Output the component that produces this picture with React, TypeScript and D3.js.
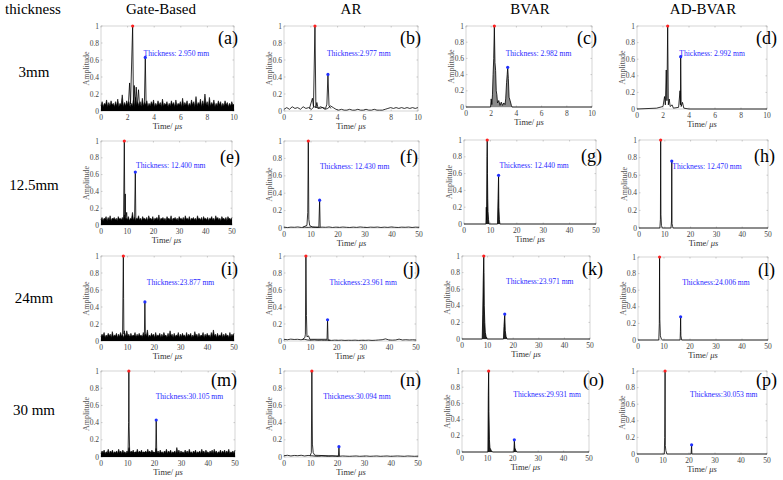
import React from 'react';
import * as d3 from 'd3';

// ---------- headers ----------
const COLUMN_TITLES = ['Gate-Based', 'AR', 'BVAR', 'AD-BVAR'];
const ROW_TITLES = ['3mm', '12.5mm', '24mm', '30 mm'];
const ROW_XMAX = [10, 50, 50, 50];
const PANEL_LETTERS = ['a', 'b', 'c', 'd', 'e', 'f', 'g', 'h', 'i', 'j', 'k', 'l', 'm', 'n', 'o', 'p'];
const THICKNESS_LABELS = [
  'Thickness: 2.950 mm', 'Thickness:2.977 mm', 'Thickness: 2.982 mm', 'Thickness: 2.992 mm',
  'Thickness: 12.400 mm', 'Thickness: 12.430 mm', 'Thickness: 12.440 mm', 'Thickness: 12.470 mm',
  'Thickness:23.877 mm', 'Thickness:23.961 mm', 'Thickness:23.971 mm', 'Thickness:24.006 mm',
  'Thickness:30.105 mm', 'Thickness:30.094 mm', 'Thickness:29.931 mm', 'Thickness:30.053 mm',
];
const Y_TICKS = [0, 0.2, 0.4, 0.6, 0.8, 1];
const X_TICKS_10 = [0, 2, 4, 6, 8, 10];
const X_TICKS_50 = [0, 10, 20, 30, 40, 50];

// ---------- noise floors (uniformly sampled over the time axis) ----------
const NOISE_A = [
  0.06, 0.11, 0.05, 0.09, 0.07, 0.13, 0.05, 0.10, 0.06, 0.12,
  0.07, 0.09, 0.05, 0.11, 0.06, 0.14, 0.05, 0.09, 0.07, 0.19,
  0.05, 0.10, 0.06, 0.12, 0.07, 0.11, 0.05, 0.09, 0.06, 0.13,
  0.05, 0.16, 0.07, 0.10, 0.06, 0.11, 0.05, 0.15, 0.06, 0.10,
  0.07, 0.12, 0.05, 0.09, 0.06, 0.11, 0.07, 0.13, 0.05, 0.09,
  0.06, 0.12, 0.07, 0.10, 0.05, 0.14, 0.06, 0.09, 0.07, 0.11,
  0.05, 0.09, 0.06, 0.12, 0.07, 0.10, 0.05, 0.13, 0.06, 0.09,
  0.07, 0.11, 0.05, 0.15, 0.06, 0.10, 0.07, 0.12, 0.05, 0.09,
  0.06, 0.13, 0.07, 0.11, 0.05, 0.17, 0.06, 0.10, 0.07, 0.14,
  0.05, 0.12, 0.06, 0.20, 0.07, 0.11, 0.05, 0.16, 0.06, 0.10,
  0.07, 0.13, 0.05, 0.09, 0.06, 0.12, 0.07, 0.11, 0.05, 0.09,
  0.06, 0.12, 0.07, 0.10, 0.05, 0.09, 0.06, 0.11, 0.07, 0.08,
];
const NOISE_E = [
  0.06, 0.09, 0.05, 0.08, 0.07, 0.10, 0.05, 0.09, 0.06, 0.11,
  0.05, 0.08, 0.07, 0.09, 0.06, 0.08, 0.05, 0.10, 0.07, 0.08,
  0.06, 0.09, 0.05, 0.12, 0.07, 0.08, 0.06, 0.10, 0.05, 0.08,
  0.07, 0.15, 0.06, 0.09, 0.05, 0.08, 0.07, 0.11, 0.06, 0.08,
  0.05, 0.10, 0.07, 0.08, 0.06, 0.09, 0.05, 0.11, 0.07, 0.08,
  0.06, 0.10, 0.05, 0.08, 0.07, 0.09, 0.06, 0.12, 0.05, 0.08,
  0.07, 0.09, 0.06, 0.08, 0.05, 0.10, 0.07, 0.08, 0.06, 0.11,
  0.05, 0.08, 0.07, 0.09, 0.06, 0.08, 0.05, 0.10, 0.07, 0.08,
  0.06, 0.09, 0.05, 0.11, 0.07, 0.08, 0.06, 0.10, 0.05, 0.08,
  0.07, 0.09, 0.06, 0.08, 0.05, 0.11, 0.07, 0.08, 0.06, 0.09,
  0.05, 0.10, 0.07, 0.08, 0.06, 0.09, 0.05, 0.08, 0.07, 0.10,
  0.06, 0.08, 0.05, 0.11, 0.07, 0.09, 0.06, 0.08, 0.05, 0.10,
  0.07, 0.08, 0.06, 0.09, 0.05, 0.10, 0.07, 0.08, 0.06, 0.09,
];
const NOISE_I = [
  0.05, 0.08, 0.06, 0.10, 0.04, 0.07, 0.05, 0.09, 0.06, 0.08,
  0.04, 0.11, 0.05, 0.07, 0.06, 0.09, 0.04, 0.08, 0.05, 0.10,
  0.06, 0.07, 0.04, 0.09, 0.05, 0.12, 0.06, 0.08, 0.04, 0.09,
  0.05, 0.07, 0.06, 0.10, 0.04, 0.08, 0.05, 0.09, 0.06, 0.07,
  0.04, 0.10, 0.05, 0.08, 0.06, 0.13, 0.04, 0.07, 0.05, 0.09,
  0.06, 0.08, 0.04, 0.10, 0.05, 0.07, 0.06, 0.09, 0.04, 0.08,
  0.05, 0.10, 0.06, 0.07, 0.04, 0.09, 0.05, 0.12, 0.06, 0.08,
  0.04, 0.09, 0.05, 0.07, 0.06, 0.10, 0.04, 0.08, 0.05, 0.09,
  0.06, 0.07, 0.04, 0.10, 0.05, 0.08, 0.06, 0.09, 0.04, 0.07,
  0.05, 0.11, 0.06, 0.08, 0.04, 0.09, 0.05, 0.07, 0.06, 0.10,
  0.04, 0.08, 0.05, 0.09, 0.06, 0.07, 0.04, 0.10, 0.05, 0.13,
  0.06, 0.08, 0.04, 0.09, 0.05, 0.07, 0.06, 0.10, 0.04, 0.08,
  0.05, 0.09, 0.06, 0.07, 0.04, 0.10, 0.05, 0.08, 0.06, 0.09,
];
const NOISE_M = [
  0.04, 0.07, 0.05, 0.08, 0.04, 0.06, 0.05, 0.09, 0.04, 0.07,
  0.05, 0.08, 0.04, 0.06, 0.05, 0.07, 0.04, 0.09, 0.05, 0.07,
  0.04, 0.08, 0.05, 0.06, 0.04, 0.07, 0.05, 0.11, 0.04, 0.07,
  0.05, 0.08, 0.04, 0.06, 0.05, 0.09, 0.04, 0.07, 0.05, 0.08,
  0.04, 0.06, 0.05, 0.07, 0.04, 0.09, 0.05, 0.07, 0.04, 0.08,
  0.05, 0.06, 0.04, 0.10, 0.05, 0.07, 0.04, 0.08, 0.05, 0.06,
  0.04, 0.07, 0.05, 0.09, 0.04, 0.07, 0.05, 0.08, 0.04, 0.06,
  0.05, 0.07, 0.04, 0.11, 0.05, 0.08, 0.04, 0.07, 0.05, 0.06,
  0.04, 0.08, 0.05, 0.07, 0.04, 0.09, 0.05, 0.06, 0.04, 0.07,
  0.05, 0.08, 0.04, 0.06, 0.05, 0.07, 0.04, 0.09, 0.05, 0.07,
  0.04, 0.08, 0.05, 0.06, 0.04, 0.07, 0.05, 0.08, 0.04, 0.09,
  0.05, 0.07, 0.04, 0.06, 0.05, 0.08, 0.04, 0.07, 0.05, 0.08,
  0.04, 0.07, 0.05, 0.09, 0.04, 0.06, 0.05, 0.07, 0.04, 0.08,
];
const FLOOR_B = [
  0.02, 0.04, 0.02, 0.05, 0.03, 0.04, 0.02, 0.05, 0.03, 0.04,
  0.02, 0.05, 0.04, 0.03, 0.04, 0.02, 0.03, 0.06, 0.04, 0.02,
  0.01, 0.02, 0.01, 0.01, 0.02, 0.01, 0.01, 0.02, 0.01, 0.01,
  0.02, 0.01, 0.01, 0.02, 0.01, 0.01, 0.01, 0.02, 0.03, 0.04,
  0.03, 0.04, 0.03, 0.04, 0.03, 0.04, 0.03, 0.04, 0.03, 0.04,
];
const FLOOR_F = [
  0.01, 0.005, 0.01, 0.008, 0.012, 0.006, 0.01, 0.007, 0.012, 0.008,
  0.006, 0.01, 0.008, 0.012, 0.006, 0.01, 0.007, 0.011, 0.008, 0.006,
  0.01, 0.007, 0.012, 0.008, 0.006, 0.01, 0.008, 0.011, 0.006, 0.01,
  0.007, 0.012, 0.008, 0.006, 0.01, 0.008, 0.011, 0.006, 0.01, 0.008,
];
const FLOOR_J = [
  0.02, 0.015, 0.022, 0.018, 0.02, 0.015, 0.02, 0.012, 0.01, 0.012,
  0.008, 0.01, 0.008, 0.01, 0.007, 0.01, 0.008, 0.01, 0.007, 0.009,
  0.008, 0.01, 0.007, 0.009, 0.008, 0.01, 0.007, 0.009, 0.012, 0.015,
  0.025, 0.012, 0.01, 0.012, 0.022, 0.012, 0.015, 0.012, 0.014, 0.012,
];
const FLOOR_N = [
  0.015, 0.02, 0.012, 0.018, 0.015, 0.02, 0.012, 0.018, 0.015, 0.01,
  0.008, 0.012, 0.01, 0.008, 0.012, 0.01, 0.008, 0.012, 0.01, 0.008,
  0.01, 0.012, 0.008, 0.01, 0.012, 0.008, 0.01, 0.012, 0.008, 0.01,
  0.012, 0.008, 0.01, 0.012, 0.01, 0.008, 0.012, 0.01, 0.008, 0.01,
];
const NOISE_BY_PANEL = [NOISE_A, FLOOR_B, null, null, NOISE_E, FLOOR_F, null, null, NOISE_I, FLOOR_J, null, null, NOISE_M, FLOOR_N, null, null];

// ---------- echo waveforms: [time µs, amplitude] ----------
const PEAKS_A = [[2.05, 0.05], [2.15, 0.33], [2.22, 0.08], [2.38, 1.0], [2.44, 0.1], [2.5, 0.3], [2.56, 0.06], [2.65, 0.28], [2.72, 0.05], [2.82, 0.25], [2.9, 0.05], [3.26, 0.06], [3.33, 0.63], [3.4, 0.0], [3.5, 0.05]];
const PEAKS_B = [[1.9, 0.03], [2.12, 0.15], [2.2, 0.05], [2.31, 1.0], [2.38, 0.04], [2.45, 0.1], [2.55, 0.03], [2.7, 0.05], [3.1, 0.03], [3.2, 0.08], [3.28, 0.43], [3.36, 0.06], [3.5, 0.03]];
const PEAKS_C = [[0, 0], [1.95, 0], [2.0, 0.1], [2.05, 0.03], [2.1, 0.15], [2.15, 0.4], [2.2, 0.6], [2.25, 1.0], [2.3, 0.55], [2.35, 0.45], [2.4, 0.2], [2.45, 0.15], [2.5, 0.05], [2.6, 0.08], [2.7, 0.02], [2.8, 0.06], [2.9, 0.02], [3.0, 0.05], [3.1, 0.03], [3.15, 0.1], [3.22, 0.3], [3.27, 0.4], [3.31, 0.49], [3.36, 0.35], [3.42, 0.12], [3.5, 0.08], [3.6, 0.02], [3.65, 0], [10, 0]];
const PEAKS_D = [[0, 0], [1.5, 0.01], [2.0, 0.03], [2.12, 0.15], [2.18, 0.05], [2.25, 0.47], [2.3, 0.1], [2.36, 1.0], [2.41, 0.05], [2.48, 0.12], [2.55, 0.03], [2.7, 0.05], [2.8, 0.01], [3.2, 0.02], [3.31, 0.22], [3.34, 0.05], [3.36, 0.63], [3.4, 0.03], [3.5, 0.08], [3.6, 0.01], [4, 0], [10, 0]];
const PEAKS_E = [[8.6, 0.05], [8.9, 1.0], [9.1, 0.1], [9.25, 0.37], [9.4, 0.05], [9.8, 0.15], [10, 0.05], [12.8, 0.05], [13.1, 0.63], [13.3, 0.05]];
const PEAKS_F = [[7, 0.01], [8.5, 0.03], [8.8, 0.18], [9.0, 1.0], [9.2, 0.1], [9.5, 0.03], [10.5, 0.01], [12.9, 0.01], [13.2, 0.32], [13.4, 0.01]];
const PEAKS_G = [[0, 0], [8.3, 0], [8.45, 0.2], [8.55, 0.05], [8.7, 0.8], [8.8, 1.0], [8.9, 0.6], [9.0, 0.3], [9.1, 0.15], [9.3, 0.05], [9.5, 0.0], [12.7, 0], [12.9, 0.3], [13.1, 0.58], [13.2, 0.2], [13.4, 0.05], [13.6, 0], [50, 0]];
const PEAKS_H = [[0, 0], [8.1, 0], [8.3, 0.1], [8.4, 1.0], [8.5, 0.15], [8.7, 0.03], [9, 0], [12.4, 0], [12.6, 0.08], [12.7, 0.76], [12.8, 0.05], [13, 0.02], [13.2, 0], [50, 0]];
const PEAKS_I = [[8.1, 0.05], [8.4, 1.0], [8.5, 0.5], [8.6, 0.08], [8.8, 0.12], [9, 0.05], [16.3, 0.05], [16.5, 0.46], [16.7, 0.05]];
const PEAKS_J = [[7, 0.02], [7.9, 0.04], [8.1, 0.08], [8.3, 1.0], [8.5, 0.3], [8.7, 0.05], [9.3, 0.06], [9.8, 0.02], [16.3, 0.02], [16.5, 0.25], [16.7, 0.01], [17.5, 0.01]];
const PEAKS_K = [[0, 0], [7.9, 0], [8.1, 0.3], [8.3, 0.7], [8.5, 1.0], [8.6, 0.8], [8.7, 0.4], [8.9, 0.2], [9.1, 0.08], [9.4, 0.03], [9.8, 0], [16.2, 0], [16.4, 0.15], [16.7, 0.30], [16.9, 0.1], [17.2, 0.03], [17.6, 0], [50, 0]];
const PEAKS_L = [[0, 0], [8.0, 0], [8.2, 0.2], [8.3, 1.0], [8.4, 0.25], [8.6, 0.05], [9, 0.01], [9.5, 0], [16.2, 0], [16.3, 0.1], [16.4, 0.28], [16.5, 0.05], [16.8, 0], [50, 0]];
const PEAKS_M = [[10.1, 0.05], [10.3, 0.4], [10.4, 1.0], [10.5, 0.35], [10.7, 0.05], [20.4, 0.05], [20.6, 0.43], [20.8, 0.05]];
const PEAKS_N = [[9.8, 0.02], [10.2, 0.05], [10.4, 1.0], [10.6, 0.15], [10.9, 0.05], [11.5, 0.02], [20.3, 0.01], [20.5, 0.12], [20.7, 0.01]];
const PEAKS_O = [[0, 0], [10.2, 0], [10.35, 0.7], [10.5, 1.0], [10.6, 0.5], [10.8, 0.15], [11.0, 0.05], [11.5, 0.02], [12, 0], [20.4, 0], [20.55, 0.1], [20.6, 0.15], [20.8, 0.05], [21.2, 0.02], [21.6, 0], [50, 0]];
const PEAKS_P = [[0, 0], [10.5, 0], [10.65, 0.2], [10.8, 1.0], [10.9, 0.1], [11.1, 0.04], [11.5, 0], [20.8, 0], [21.0, 0.11], [21.1, 0], [50, 0]];
const PEAKS_BY_PANEL = [PEAKS_A, PEAKS_B, PEAKS_C, PEAKS_D, PEAKS_E, PEAKS_F, PEAKS_G, PEAKS_H, PEAKS_I, PEAKS_J, PEAKS_K, PEAKS_L, PEAKS_M, PEAKS_N, PEAKS_O, PEAKS_P];

// detected front-wall (red) and back-wall (blue) echoes: [time, amplitude]
const FRONT_ECHO = [[2.38, 1], [2.31, 1], [2.25, 1], [2.36, 1], [8.9, 1], [9.0, 1], [8.8, 1], [8.4, 1], [8.4, 1], [8.3, 1], [8.5, 1], [8.3, 1], [10.4, 1], [10.4, 1], [10.5, 1], [10.8, 1]];
const BACK_ECHO = [[3.33, 0.63], [3.28, 0.43], [3.31, 0.49], [3.36, 0.63], [13.1, 0.63], [13.2, 0.32], [13.1, 0.58], [12.7, 0.76], [16.5, 0.46], [16.5, 0.25], [16.7, 0.30], [16.4, 0.28], [20.6, 0.43], [20.5, 0.12], [20.6, 0.15], [21.0, 0.11]];

// ---------- layout (pixels) ----------
const PANEL_BOX = [
  [101, 234, 26, 111], [284, 418, 26, 111], [466, 592, 26, 107], [637, 767, 26, 109],
  [101, 232, 141, 225], [284, 419, 141, 228], [464, 596, 140, 224], [639, 768, 140, 228],
  [101, 234, 256, 341], [284, 416, 256, 341], [462, 590, 256, 339], [638, 768, 257, 340],
  [101, 235, 371, 457], [284, 418, 371, 457], [462, 589, 371, 452], [637, 767, 371, 454],
];
const LABEL_AT = [
  [3.2, 0.65], [3.2, 0.65], [3.15, 0.63], [3.25, 0.64],
  [13.4, 0.68], [13.3, 0.68], [13.4, 0.67], [12.9, 0.67],
  [17.2, 0.66], [17.2, 0.66], [17.2, 0.66], [17.0, 0.66],
  [20.4, 0.67], [14.6, 0.67], [20.2, 0.68], [20.4, 0.69],
];
const LETTER_END_X = [238, 421, 597, 777, 240, 418, 602, 775, 238, 420, 603, 775, 237, 421, 604, 777];
const LETTER_BASELINE_OFFSET = [18, 22, 19, 15];
const PANEL_FILL = [null, null, '#8a8a8a', null, null, null, '#222', null, null, null, '#222', null, null, null, '#222', null];
const COL_TITLE_X = [161, 351, 530, 703];
const ROW_TITLE_Y = [77, 190, 303, 415];

const SERIF = '"Liberation Serif", "Times New Roman", serif';

function Panel({ idx }: { idx: number }) {
  const [L, R, T, B] = PANEL_BOX[idx];
  const row = Math.floor(idx / 4);
  const col = idx % 4;
  const xMax = ROW_XMAX[row];
  const x = d3.scaleLinear().domain([0, xMax]).range([L, R]);
  const y = d3.scaleLinear().domain([0, 1]).range([B, T]);
  const line = d3.line<number[]>().x((d) => x(d[0])).y((d) => y(d[1]));
  const area = d3.area<number[]>().x((d) => x(d[0])).y0(y(0)).y1((d) => y(d[1]));
  const noise = NOISE_BY_PANEL[idx];
  const noisePts = noise ? noise.map((v, k) => [(k * xMax) / (noise.length - 1), v]) : null;
  const peaks = PEAKS_BY_PANEL[idx];
  const xTicks = xMax === 10 ? X_TICKS_10 : X_TICKS_50;
  const fill = PANEL_FILL[idx];
  const [lt, la] = LABEL_AT[idx];
  const front = FRONT_ECHO[idx];
  const back = BACK_ECHO[idx];
  return (
    <g>
      <rect x={L} y={T} width={R - L} height={B - T} fill="white" stroke="#c4c4c4" strokeWidth={0.7} />
      {xTicks.map((t) => (
        <g key={'x' + t}>
          <line x1={x(t)} x2={x(t)} y1={B} y2={B - 1.5} stroke="#aaa" strokeWidth={0.6} />
          <line x1={x(t)} x2={x(t)} y1={T} y2={T + 1.5} stroke="#aaa" strokeWidth={0.6} />
          <text x={x(t)} y={B + 9} fontSize={7.5} fill="#444" textAnchor="middle" fontFamily={SERIF}>{t}</text>
        </g>
      ))}
      {Y_TICKS.map((t) => (
        <g key={'y' + t}>
          <line x1={L} x2={L + 1.5} y1={y(t)} y2={y(t)} stroke="#aaa" strokeWidth={0.6} />
          <line x1={R} x2={R - 1.5} y1={y(t)} y2={y(t)} stroke="#aaa" strokeWidth={0.6} />
          <text x={L - 2} y={y(t) + 2.5} fontSize={7.5} fill="#444" textAnchor="end" fontFamily={SERIF}>{t}</text>
        </g>
      ))}
      <text transform={`translate(${L - 12},${(T + B) / 2}) rotate(-90)`} fontSize={8} fill="#555" textAnchor="middle" fontFamily={SERIF}>Amplitude</text>
      <text x={(L + R) / 2} y={B + 17.5} fontSize={8.5} fill="#333" textAnchor="middle" fontFamily={SERIF}>
        Time/ <tspan fontStyle="italic">μs</tspan>
      </text>
      {noisePts && col === 0 && <path d={area(noisePts) || ''} fill="#000" stroke="none" />}
      {noisePts && <path d={line(noisePts) || ''} fill="none" stroke="#000" strokeWidth={col === 0 ? 0.6 : 0.8} />}
      {fill && <path d={area(peaks) || ''} fill={fill} stroke="none" />}
      <path d={line(peaks) || ''} fill="none" stroke="#000" strokeWidth={0.8} />
      <circle cx={x(front[0])} cy={y(front[1])} r={1.6} fill="#ff2020" />
      <circle cx={x(back[0])} cy={y(back[1])} r={1.6} fill="#2030ff" />
      <text x={x(lt)} y={y(la)} fontSize={7.6} fill="#2a2aff" fontFamily={SERIF}>{THICKNESS_LABELS[idx]}</text>
      <text x={LETTER_END_X[idx]} y={T + LETTER_BASELINE_OFFSET[row]} fontSize={18} fill="#000" textAnchor="end" fontFamily={SERIF}>({PANEL_LETTERS[idx]})</text>
    </g>
  );
}

export default function App() {
  return (
    <svg width={783} height={480} style={{ position: 'absolute', left: 0, top: 0, background: 'white' }}>
      <rect x={0} y={0} width={783} height={480} fill="white" />
      <text x={33} y={14} fontSize={15} textAnchor="middle" fontFamily={SERIF}>thickness</text>
      {COLUMN_TITLES.map((t, i) => (
        <text key={t} x={COL_TITLE_X[i]} y={14} fontSize={15} textAnchor="middle" fontFamily={SERIF}>{t}</text>
      ))}
      {ROW_TITLES.map((t, i) => (
        <text key={t} x={34} y={ROW_TITLE_Y[i]} fontSize={15} textAnchor="middle" fontFamily={SERIF}>{t}</text>
      ))}
      {PANEL_LETTERS.map((_, i) => (
        <Panel key={i} idx={i} />
      ))}
    </svg>
  );
}
